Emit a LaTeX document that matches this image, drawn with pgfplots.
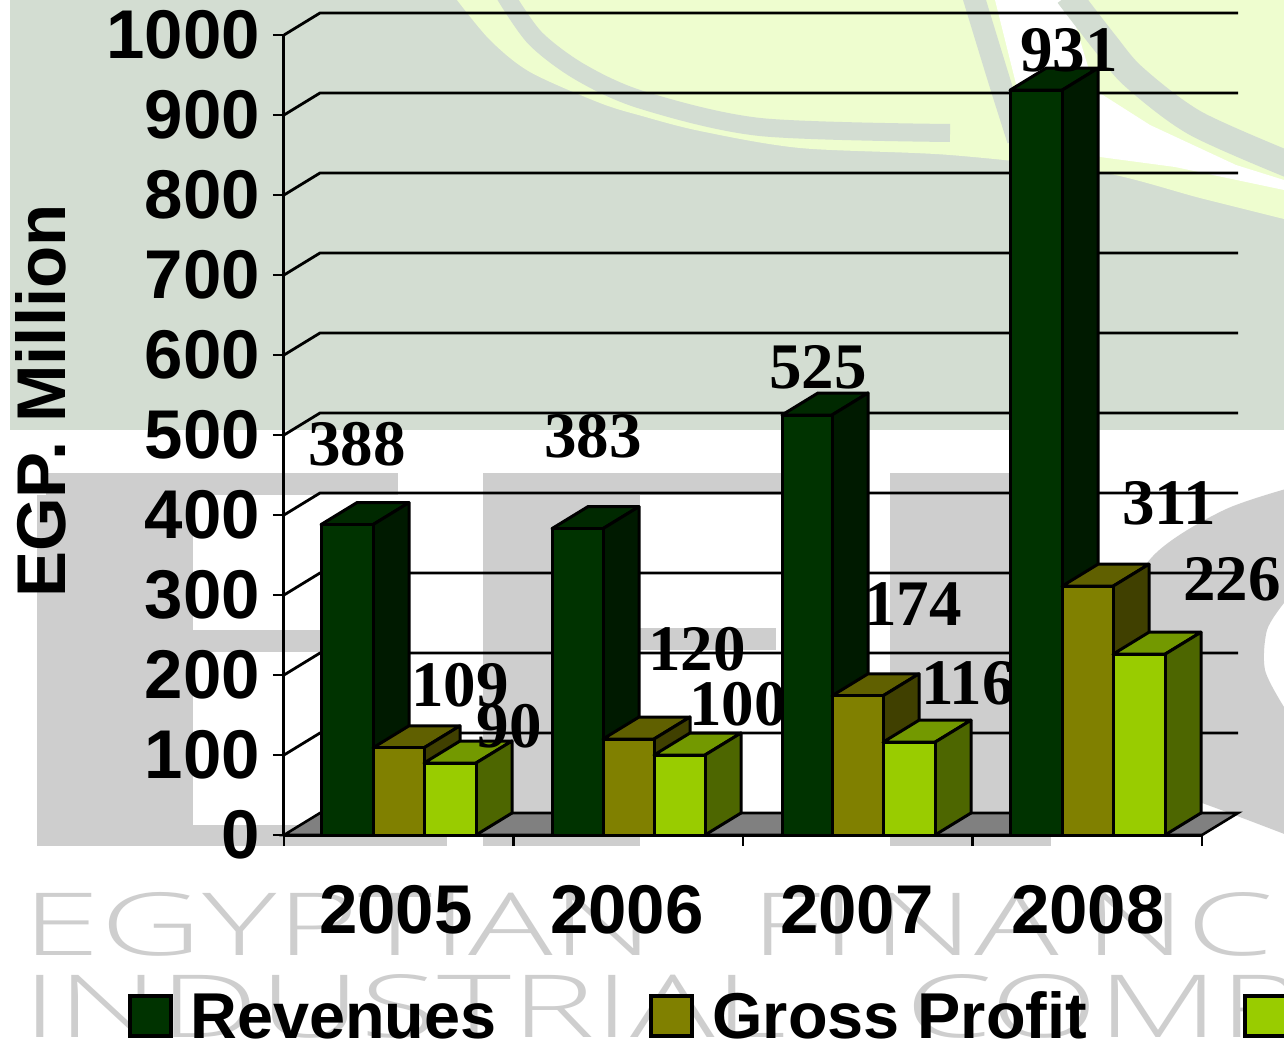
\documentclass[border=0pt]{standalone}
\usepackage{fontspec}
\setmainfont{Liberation Sans}
\newfontfamily\serifbold[BoldFont={Liberation Serif Bold}]{Liberation Serif}
\newfontfamily\wmfont{Open Sans Light}
\usepackage{graphicx}
\usepackage{pgfplots}
\pgfplotsset{compat=1.18}
\definecolor{bandgreen}{HTML}{D3DDD2}
\definecolor{paleyellow}{HTML}{EEFDCF}
\definecolor{wmgrey}{HTML}{CECECE}
\definecolor{floorgrey}{HTML}{808080}
\definecolor{revfront}{HTML}{003300}
\definecolor{revtop}{HTML}{002900}
\definecolor{revside}{HTML}{001A00}
\definecolor{gpfront}{HTML}{808000}
\definecolor{gptop}{HTML}{606000}
\definecolor{gpside}{HTML}{404000}
\definecolor{npfront}{HTML}{99CC00}
\definecolor{nptop}{HTML}{739900}
\definecolor{npside}{HTML}{4D6600}

% bar: x0, x1, value, front, top, side  (x in reference pixels, depth 36 px = 27.5 units)
\newcommand{\threedbar}[6]{%
  \pgfmathsetmacro\xc{#2+36}\pgfmathsetmacro\xb{#1+36}%
  \pgfmathsetmacro\vb{#3+27.5}%
  \edef\tmp{\noexpand\addplot[fill=#5,draw=black,line width=1.5pt,line join=round] coordinates {(#1,#3) (\xb,\vb) (\xc,\vb) (#2,#3)} --cycle;
    \noexpand\addplot[fill=#6,draw=black,line width=1.5pt,line join=round] coordinates {(#2,0) (\xc,27.5) (\xc,\vb) (#2,#3)} --cycle;
    \noexpand\addplot[fill=#4,draw=black,line width=1.5pt,line join=round] coordinates {(#1,0) (#1,#3) (#2,#3) (#2,0)} --cycle;}%
  \tmp}
\newcommand{\vallabel}[3]{\node[anchor=base,inner sep=0pt,font=\serifbold\bfseries\fontsize{32.5}{33}\selectfont] at (axis cs:#1,{(835-#2)/0.8}) {#3};}
% wall and back grid line at one value
\newcommand{\wallline}[1]{%
  \pgfmathsetmacro\vb{#1+27.5}%
  \edef\tmp{\noexpand\addplot[black,line width=1.4pt] coordinates {(284,#1) (320,\vb) (1238,\vb)};}\tmp}
% watermark word: x, baseline, horizontal stretch, text
\newcommand{\wmword}[4]{\node[anchor=base west,inner sep=0pt,text=wmgrey,font=\wmfont\fontsize{43.5}{44}\selectfont] at (#1,#2) {\scalebox{#3}[1]{#4}};}

\begin{document}
\begin{tikzpicture}
\clip[use as bounding box] (0,0) rectangle (642pt,-521.5pt);
\begin{scope}[x=0.5pt,y=-0.5pt]
  \fill[white] (0,0) rectangle (1284,1043);
  % background: top band
  \fill[bandgreen] (10,0) rectangle (1284,430);
  \fill[paleyellow] plot[smooth] coordinates {(457,0) (490,40) (530,72) (600,103) (642,116) (700,131) (800,148) (950,155) (1100,172) (1200,198) (1284,219)} -- (1284,0) -- cycle;
  \draw[bandgreen,line width=9pt] plot[smooth] coordinates {(505,-5) (535,38) (580,72) (642,100) (760,127) (950,133)};
  \fill[white] (995,0) -- (1068,0) -- (1095,90) -- (1150,125) -- (1236,165) -- (1284,180) -- (1284,190) -- (1175,167) -- (1100,157) -- (1020,100) -- cycle;
  \draw[bandgreen,line width=11pt] plot[smooth] coordinates {(973,-5) (999,80) (1018,140)};
  \draw[bandgreen,line width=13pt] plot[smooth] coordinates {(1068,-5) (1105,43) (1134,77) (1195,123) (1290,165)};
  % background: block letters
  \fill[wmgrey] (46,473) rectangle (398,495);
  \fill[wmgrey] (37,495) rectangle (193,846);
  \fill[wmgrey] (193,630) rectangle (320,652);
  \fill[wmgrey] (193,825) rectangle (447,846);
  \fill[wmgrey] (483,473) rectangle (640,846);
  \fill[wmgrey] (640,473) rectangle (790,495);
  \fill[wmgrey] (640,628) rectangle (776,650);
  \fill[wmgrey] (890,473) rectangle (1051,846);
  \fill[wmgrey] plot[smooth] coordinates {(1300,485) (1224,510) (1152,557) (1105,640) (1095,720) (1130,780) (1202,803) (1300,840)} -- (1300,718) plot[smooth] coordinates {(1284,707) (1265,670) (1267,630) (1284,603)} -- (1300,595) -- cycle;
  % background: company name
  \wmword{22}{955}{1.62}{EGYPTIAN}
  \wmword{750}{955}{1.62}{FI\kern5pt NA\kern8pt NC}
  \wmword{22}{1037}{1.62}{INDUSTRIAL}
  \wmword{905}{1037}{1.62}{COMPANY}
\end{scope}

\begin{axis}[
  at={(142pt,-417.5pt)}, anchor=south west,
  scale only axis, width=459pt, height=400pt,
  xmin=284, xmax=1202, ymin=0, ymax=1000,
  clip=false,
  axis lines=left,
  axis line style={-,black,line width=1.5pt},
  tick style={black,line width=1.4pt},
  tick align=outside,
  major tick length=5.5pt,
  xtick={284,513.5,743,972.5,1202},
  xticklabels={},
  extra x ticks={396,627,857,1088},
  extra x tick labels={2005,2006,2007,2008},
  extra x tick style={major tick length=0pt,
    xticklabel style={font=\bfseries\fontsize{34.5}{34}\selectfont,anchor=base,yshift=-49pt}},
  ytick={0,100,...,1000},
  yticklabel style={font=\bfseries\fontsize{34.5}{34}\selectfont,anchor=east,xshift=-3pt},
  /pgf/number format/1000 sep={},
  /pgf/number format/assume math mode=true,
  ylabel={EGP. Million},
  every axis y label/.style={at={(axis description cs:-0.2375,0.5425)},rotate=90,anchor=base},
  ylabel style={font=\bfseries\fontsize{34.5}{34}\selectfont,inner sep=0pt},
]
% back wall grid
\wallline{100}\wallline{200}\wallline{300}\wallline{400}\wallline{500}
\wallline{600}\wallline{700}\wallline{800}\wallline{900}\wallline{1000}
% floor
\addplot[fill=floorgrey,draw=black,line width=1.3pt] coordinates {(284,0) (320,27.5) (1238,27.5) (1202,0)} --cycle;

% 2005
\threedbar{321}{373}{388}{revfront}{revtop}{revside}
\threedbar{373}{424}{109}{gpfront}{gptop}{gpside}
\threedbar{424}{476}{90}{npfront}{nptop}{npside}
\vallabel{357}{465}{388}
\vallabel{460}{706}{109}
\vallabel{509}{747}{90}
% 2006
\threedbar{552}{603}{383}{revfront}{revtop}{revside}
\threedbar{603}{654}{120}{gpfront}{gptop}{gpside}
\threedbar{654}{705}{100}{npfront}{nptop}{npside}
\vallabel{593}{457}{383}
\vallabel{697}{670}{120}
\vallabel{738}{725}{100}
% 2007
\threedbar{782}{832}{525}{revfront}{revtop}{revside}
\threedbar{832}{883}{174}{gpfront}{gptop}{gpside}
\threedbar{883}{935}{116}{npfront}{nptop}{npside}
\vallabel{818}{388}{525}
\vallabel{913}{625}{174}
\vallabel{968}{704}{116}
% 2008
\threedbar{1010}{1062}{931}{revfront}{revtop}{revside}
\threedbar{1062}{1113}{311}{gpfront}{gptop}{gpside}
\threedbar{1113}{1165}{226}{npfront}{nptop}{npside}
\vallabel{1069}{71}{931}
\vallabel{1169}{524}{311}
\vallabel{1232}{600}{226}
\end{axis}

\begin{scope}[x=0.5pt,y=-0.5pt]
  % legend, cut off at the right edge as in the picture
  \filldraw[fill=revfront,draw=black,line width=1.6pt] (130,996) rectangle (171,1036);
  \node[anchor=base west,inner sep=0pt,font=\bfseries\fontsize{32.4}{33}\selectfont] at (190,1038) {Revenues};
  \filldraw[fill=gpfront,draw=black,line width=1.6pt] (651,996) rectangle (692,1036);
  \node[anchor=base west,inner sep=0pt,font=\bfseries\fontsize{32.4}{33}\selectfont] at (712,1038) {Gross Profit};
  \filldraw[fill=npfront,draw=black,line width=1.6pt] (1245,996) rectangle (1300,1036);
\end{scope}
\end{tikzpicture}
\end{document}
